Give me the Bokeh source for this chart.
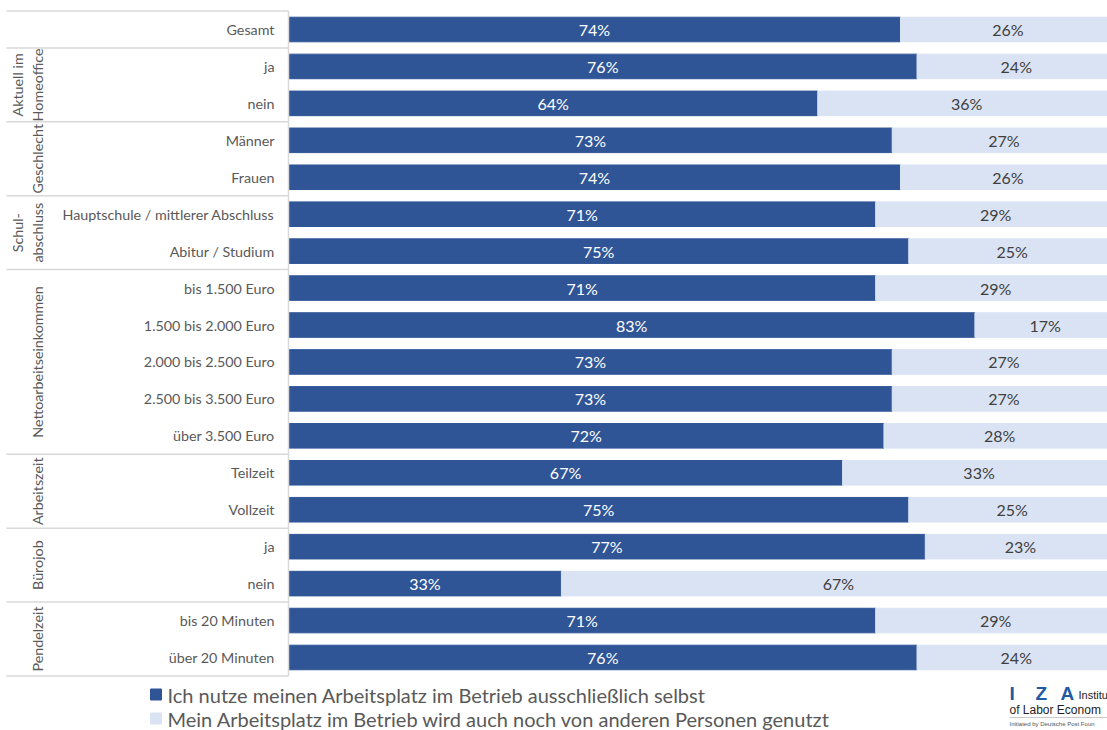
import math
from bokeh.plotting import figure
from bokeh.models import Range1d, ColumnDataSource
from bokeh.core.properties import value
from bokeh.embed import file_html
from bokeh.resources import INLINE

# ---- data ----
categories = ["Gesamt", "ja", "nein", "Männer", "Frauen",
              "Hauptschule / mittlerer Abschluss", "Abitur / Studium",
              "bis 1.500 Euro", "1.500 bis 2.000 Euro", "2.000 bis 2.500 Euro",
              "2.500 bis 3.500 Euro", "über 3.500 Euro",
              "Teilzeit", "Vollzeit", "ja", "nein",
              "bis 20 Minuten", "über 20 Minuten"]
selbst = [74, 76, 64, 73, 74, 71, 75, 71, 83, 73, 73, 72, 67, 75, 77, 33, 71, 76]
andere = [26, 24, 36, 27, 26, 29, 25, 29, 17, 27, 27, 28, 33, 25, 23, 67, 29, 24]
group_names = [[], ["Aktuell im", "Homeoffice"], ["Geschlecht"], ["Schul-", "abschluss"],
               ["Nettoarbeitseinkommen"], ["Arbeitszeit"], ["Bürojob"], ["Pendelzeit"]]
group_sizes = [1, 2, 2, 2, 5, 2, 2, 2]
legend_labels = ["Ich nutze meinen Arbeitsplatz im Betrieb ausschließlich selbst",
                 "Mein Arbeitsplatz im Betrieb wird auch noch von anderen Personen genutzt"]

DARK = "#2F5597"
LIGHT = "#DAE3F3"
GRAY = "#595959"
LINE = "#D9D9D9"
FONT = value("Lato")

W, H = 1107, 730
SX = 8.27      # px per percent
X0 = 288       # page x of 0%
PITCH = 36.94  # px per row
Y0 = 29        # page y of first row


def px2x(px):
    return (px - X0) / SX


def px2y(py):
    return (py - Y0) / PITCH


p = figure(width=W, height=H, output_backend="svg", toolbar_location=None,
           x_range=Range1d(px2x(0), px2x(W)),
           y_range=Range1d(px2y(H), px2y(0)),
           x_axis_location=None, y_axis_location=None,
           min_border=0, outline_line_color=None)
p.grid.visible = False

n = len(categories)
idx = list(range(n))
ends = [s + a for s, a in zip(selbst, andere)]
src = ColumnDataSource(dict(y=idx, cat=categories, s=selbst, a=andere, e=ends,
                            sl=[f"{v}%" for v in selbst], al=[f"{v}%" for v in andere],
                            sx=[v / 2 for v in selbst],
                            ax=[s + a / 2 for s, a in zip(selbst, andere)],
                            zero=[0] * n))

p.hbar(y="y", left="zero", right="s", height=0.665, source=src,
       fill_color=DARK, line_color=DARK)
p.hbar(y="y", left="s", right="e", height=0.665, source=src,
       fill_color=LIGHT, line_color=LIGHT)

p.text(x="sx", y="y", text="sl", source=src, text_align="center", text_baseline="middle",
       text_font=FONT, text_font_size="16px", text_color="white")
p.text(x="ax", y="y", text="al", source=src, text_align="center", text_baseline="middle",
       text_font=FONT, text_font_size="16px", text_color="#404040")

# category labels
p.text(x=[px2x(274)] * n, y=idx, text=categories, text_align="right",
       text_baseline="middle", text_font=FONT, text_font_size="14.3px", text_color=GRAY)

# group separators
bounds = [-0.5]
for g in group_sizes:
    bounds.append(bounds[-1] + g)
xl, xr = px2x(6), px2x(288)
p.segment(x0=[xl] * len(bounds), x1=[xr] * len(bounds), y0=bounds, y1=bounds,
          line_color=LINE, line_width=1.5)
p.segment(x0=[xr], x1=[xr], y0=[bounds[0]], y1=[bounds[-1]], line_color=LINE, line_width=1.5)

# group labels (rotated)
gx, gy, gt = [], [], []
for k, names in enumerate(group_names):
    if not names:
        continue
    yc = (bounds[k] + bounds[k + 1]) / 2
    cols = [17, 37] if len(names) == 2 else [37]
    for name, cx in zip(names, cols):
        gx.append(px2x(cx))
        gy.append(yc)
        gt.append(name)
p.text(x=gx, y=gy, text=gt, angle=math.pi / 2, text_align="center", text_baseline="middle",
       text_font=FONT, text_font_size="14.3px", text_color=GRAY)

# legend
ly = [px2y(694), px2y(718)]
p.scatter(x=[px2x(155.5)] * 2, y=ly, marker="square", size=11,
          fill_color=[DARK, LIGHT], line_color=[DARK, LIGHT])
p.text(x=[px2x(167)] * 2, y=ly, text=legend_labels, text_align="left", text_baseline="middle",
       text_font=FONT, text_font_size="20px", text_color=GRAY)

# IZA logo (cropped at the right edge in the reference)
LOGO = value("Liberation Sans")
p.text(x=[px2x(1009), px2x(1035), px2x(1060)], y=[px2y(693)] * 3, text=["I", "Z", "A"],
       text_align="left", text_baseline="middle", text_font=LOGO, text_font_size="19px",
       text_font_style="bold", text_color="#1F5AA6")
p.text(x=[px2x(1078)], y=[px2y(694)], text=["Institu"], text_align="left",
       text_baseline="middle", text_font=LOGO, text_font_size="11px", text_color="#222222")
p.text(x=[px2x(1009)], y=[px2y(709)], text=["of Labor Econom"], text_align="left",
       text_baseline="middle", text_font=LOGO, text_font_size="12px", text_color="#222222")
p.segment(x0=[px2x(1009)], x1=[px2x(1107)], y0=[px2y(717)], y1=[px2y(717)],
          line_color="#BBBBBB", line_width=0.8)
p.text(x=[px2x(1009)], y=[px2y(723)], text=["Initiated by Deutsche Post Foun"],
       text_align="left", text_baseline="middle", text_font=LOGO,
       text_font_size="6px", text_color="#555555")

open("out.html", "w").write(file_html(p, INLINE))
